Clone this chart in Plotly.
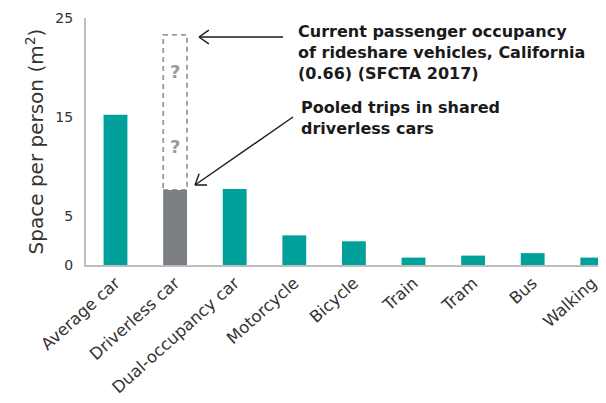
import math
import plotly.graph_objects as go

# data
categories = ["Average car", "Driverless car", "Dual-occupancy car", "Motorcycle",
              "Bicycle", "Train", "Tram", "Bus", "Walking"]
space_m2 = [15.2, 7.6, 7.7, 3.0, 2.4, 0.75, 0.95, 1.2, 0.75]
bar_colors = ["#00A19A", "#7B7F83"] + ["#00A19A"] * 7
rideshare_space = 23.3          # dashed "current occupancy" box top
question_marks_y = [19.6, 12.0]
y_ticks = [0, 5, 15, 25]

# the page body adds an 8px margin, so the figure is drawn 8px in from the corner
OFF = 8
W, H = 606 - OFF, 403 - OFF
# plot area in page pixels
L, R, T, B = 86, 606, 18, 265
FONT = "DejaVu Sans"


def to_paper(px, py):
    return (px - L) / (R - L), (B - py) / (B - T)


def arrow(x_tail, y_tail, x_head, y_head, size=12, spread=35):
    shapes = []
    x0, y0 = to_paper(x_tail, y_tail)
    x1, y1 = to_paper(x_head, y_head)
    line = dict(color="#1a1a1a", width=1.4)
    shapes.append(dict(type="line", xref="paper", yref="paper",
                       x0=x0, y0=y0, x1=x1, y1=y1, line=line))
    ang = math.atan2(y_tail - y_head, x_tail - x_head)
    for s in (-1, 1):
        a = ang + s * math.radians(spread)
        ex, ey = to_paper(x_head + size * math.cos(a), y_head + size * math.sin(a))
        shapes.append(dict(type="line", xref="paper", yref="paper",
                           x0=x1, y0=y1, x1=ex, y1=ey, line=line))
    return shapes


fig = go.Figure(go.Bar(
    x=list(range(len(categories))), y=space_m2, width=0.4,
    marker=dict(color=bar_colors, line=dict(width=0)),
))

shapes = [dict(type="rect", xref="x", yref="y", x0=0.8, x1=1.2,
               y0=space_m2[1], y1=rideshare_space, layer="below",
               line=dict(color="#9a9a9a", width=1.8, dash="5px,4px"))]
shapes += arrow(283, 37, 199, 37)
shapes += arrow(293, 117, 195, 185)

annotations = [
    dict(x=1, y=yq, xref="x", yref="y", text="?", showarrow=False,
         font=dict(size=18, color="#9a9a9a", family=FONT, weight="bold"))
    for yq in question_marks_y
]
annotations.append(dict(
    x=to_paper(296, 0)[0], y=to_paper(0, 20)[1], xref="paper", yref="paper",
    xanchor="left", yanchor="top", align="left", showarrow=False,
    text="Current passenger occupancy<br>of rideshare vehicles, California<br>(0.66) (SFCTA 2017)",
    font=dict(size=16, color="#1a1a1a", family=FONT, weight="bold")))
annotations.append(dict(
    x=to_paper(299, 0)[0], y=to_paper(0, 96)[1], xref="paper", yref="paper",
    xanchor="left", yanchor="top", align="left", showarrow=False,
    text="Pooled trips in shared<br>driverless cars",
    font=dict(size=16, color="#1a1a1a", family=FONT, weight="bold")))

fig.update_layout(
    width=W, height=H,
    margin=dict(l=L - OFF, r=606 - R, t=T - OFF, b=403 - B, autoexpand=False),
    paper_bgcolor="white", plot_bgcolor="white",
    showlegend=False,
    font=dict(family=FONT, color="#333333"),
    shapes=shapes, annotations=annotations,
)
fig.update_xaxes(
    range=[-0.495, 8.23], tickvals=list(range(len(categories))), ticktext=categories,
    tickangle=-42, tickfont=dict(size=16.5, color="#333333"), automargin=False,
    ticklabelstandoff=0,
    showline=True, linecolor="#bdbdbd", linewidth=2, showgrid=False, ticks="",
)
fig.update_yaxes(
    range=[0, 25], tickvals=y_ticks, tickfont=dict(size=14, color="#333333"),
    showline=True, linecolor="#bdbdbd", linewidth=2, showgrid=False, zeroline=False,
    ticks="", ticklabelstandoff=8, automargin=False,
    title=dict(text="Space per person (m<sup>2</sup>)", font=dict(size=20, color="#333333"),
               standoff=6),
)

fig.write_html("out.html")
